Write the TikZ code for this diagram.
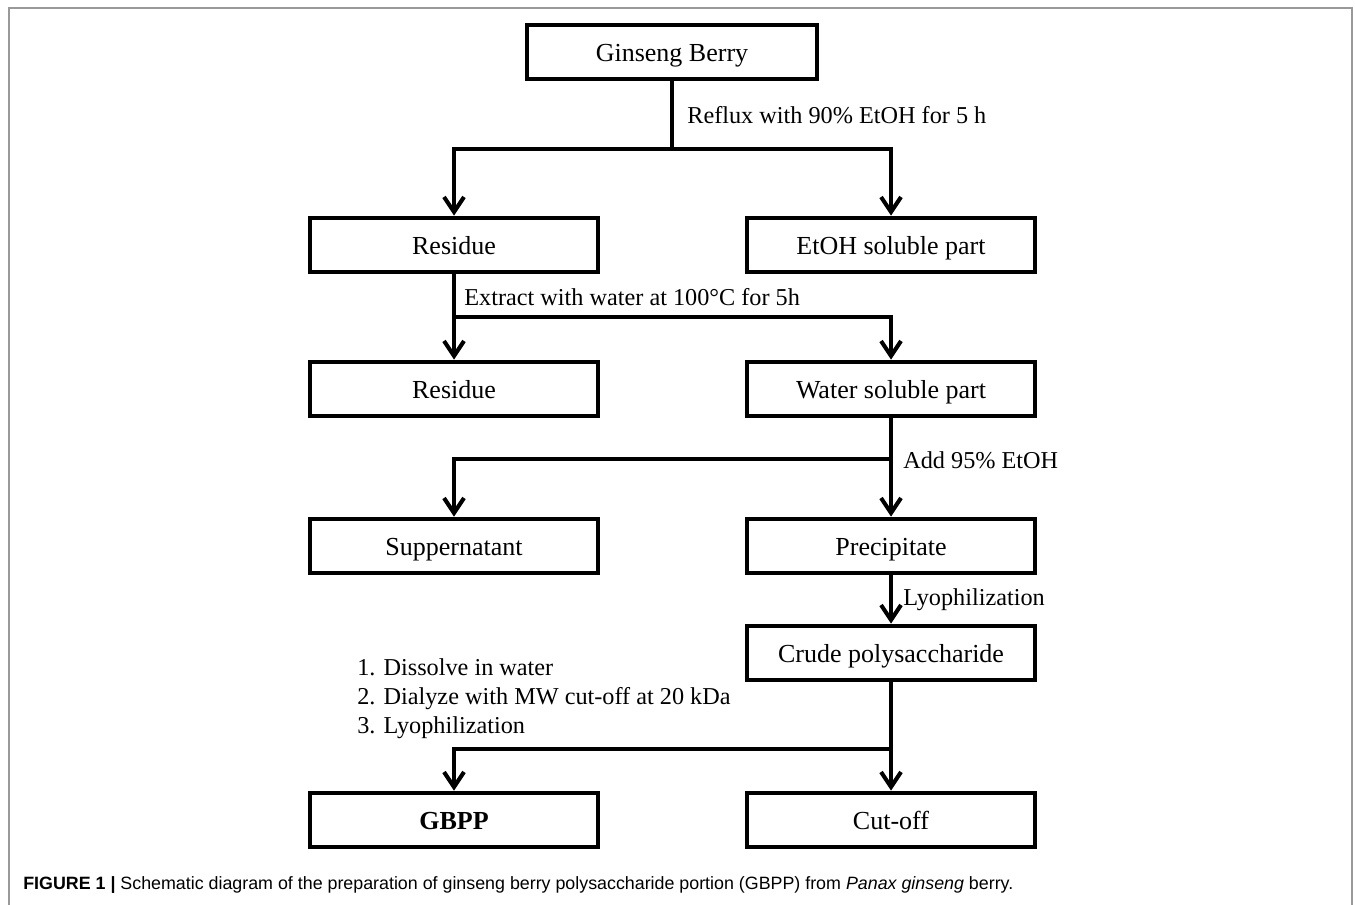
\documentclass[tikz,border=0pt]{standalone}
\usepackage{fontspec}
\setmainfont{Liberation Serif}
\newfontfamily\capfont{Liberation Sans}
\usetikzlibrary{arrows.meta,positioning,calc}

\begin{document}
\begin{tikzpicture}[x=0.02cm, y=-0.02cm,
    stepbox/.style={draw, line width=2.7pt, minimum width=5.76cm, minimum height=1.08cm,
        inner sep=0pt, text height=13pt, text depth=2.6pt, font=\fontsize{14.8}{17}\selectfont},
    note/.style={anchor=west, inner sep=0pt, font=\fontsize{13.8}{16.5}\selectfont},
    line/.style={line width=2.3pt},
    arr/.style={line width=2.3pt, -{Straight Barb[length=0.3cm, width=0.4cm]}}]
    \useasboundingbox (0,0) rectangle (1355,905);
    % frame
    \draw[gray!80, line width=0.9pt] (9,905) -- (9,8) -- (1352,8) -- (1352,905);

    % Level 0
    \node[stepbox, minimum width=5.8cm] (berry) at (672,52) {Ginseng Berry};
    \node[note] (reflux) at (687,115) {Reflux with 90\% EtOH for 5 h};

    % Level 1
    \node[stepbox] (res1) at (454,245) {Residue};
    \node[stepbox] (etoh) at (891,245) {EtOH soluble part};
    \node[note] (extract) at (464,297) {Extract with water at 100\textdegree C for 5h};

    % Level 2
    \node[stepbox] (res2) at (454,389) {Residue};
    \node[stepbox] (water) at (891,389) {Water soluble part};
    \node[note] (add) at (903,460) {Add 95\% EtOH};

    % Level 3
    \node[stepbox] (super) at (454,546) {Suppernatant};
    \node[stepbox] (precip) at (891,546) {Precipitate};
    \node[note] (lyo) at (903,600) {Lyophilization};

    % Level 4
    \node[stepbox] (crude) at (891,653) {Crude polysaccharide};
    \node[note, align=left] (steps) at (357,699) {1. Dissolve in water\\2. Dialyze with MW cut-off at 20 kDa\\3. Lyophilization};

    % Level 5
    \node[stepbox] (gbpp) at (454,820) {\textbf{GBPP}};
    \node[stepbox] (cutoff) at (891,820) {Cut-off};

    % junctions
    \coordinate (j1) at (berry.south |- 0,149);
    \coordinate (j2) at (res1.south |- 0,317);
    \coordinate (j3) at (water.south |- 0,459);
    \coordinate (j4) at (crude.south |- 0,749);

    \draw[line] (berry) -- (j1);
    \draw[arr] (j1) -| (res1);
    \draw[arr] (j1) -| (etoh);

    \draw[line] (res1) -- (j2);
    \draw[arr] (j2) -- (res2);
    \draw[arr] (j2) -| (water);

    \draw[line] (water) -- (j3);
    \draw[arr] (j3) -| (super);
    \draw[arr] (j3) -- (precip);

    \draw[arr] (precip) -- (crude);

    \draw[line] (crude) -- (j4);
    \draw[arr] (j4) -| (gbpp);
    \draw[arr] (j4) -- (cutoff);

    % caption
    \node[anchor=west, inner sep=0pt, font=\capfont\fontsize{10.15}{12}\selectfont] (caption) at (23,885)
        {\textbf{FIGURE 1 |} Schematic diagram of the preparation of ginseng berry polysaccharide portion (GBPP) from \textit{Panax ginseng} berry.};
\end{tikzpicture}
\end{document}
